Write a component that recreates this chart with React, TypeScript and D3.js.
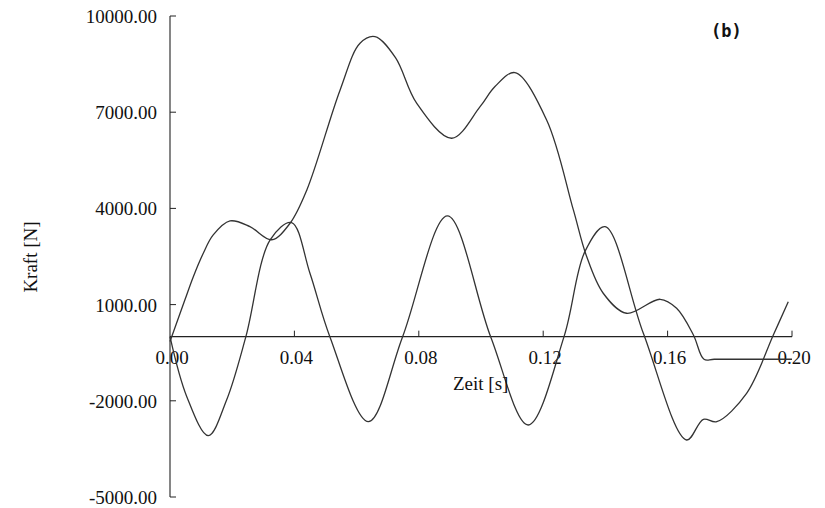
import React from "react";
import * as d3 from "d3";

// time axis ticks [s] and force ticks [N]
const xTicks = [0, 0.04, 0.08, 0.12, 0.16, 0.2];
const yTicks = [10000, 7000, 4000, 1000, -2000, -5000];

// curve 1: total force
const aTime = [0, 0.0048, 0.0075, 0.0107, 0.0139, 0.0193, 0.0257, 0.0327, 0.0386, 0.044, 0.0547, 0.0611, 0.0659, 0.0725, 0.0793, 0.0906, 0.0997, 0.1045, 0.1109, 0.1211, 0.1297, 0.1338, 0.1393, 0.1468, 0.1576, 0.1629, 0.1683, 0.1717, 0.175, 0.2];
const aForce = [-150, 1150, 1871, 2601, 3172, 3609, 3431, 3023, 3537, 4576, 7695, 9151, 9357, 8700, 7280, 6188, 7174, 7800, 8234, 6759, 3952, 2548, 1354, 730, 1166, 886, 53, -705, -705, -705];

// curve 2: oscillating force
const bTime = [0, 0.0054, 0.0123, 0.0182, 0.0244, 0.0322, 0.0391, 0.045, 0.0514, 0.0638, 0.0748, 0.0892, 0.1031, 0.1152, 0.1267, 0.1334, 0.1399, 0.1522, 0.1661, 0.1715, 0.1758, 0.1854, 0.194, 0.1988];
const bForce = [0, -1871, -3088, -1974, 0, 3016, 3556, 1977, 0, -2651, 0, 3765, 0, -2754, 0, 2651, 3431, 106, -3222, -2576, -2651, -1766, 53, 1092];

const W = 825;
const H = 508;
const font = "'Liberation Serif', 'Times New Roman', serif";

export default function App() {
  const x = d3.scaleLinear().domain([0, 0.2]).range([170, 792]);
  const y = d3.scaleLinear().domain([-5000, 10000]).range([497, 16]);

  const line = d3
    .line<[number, number]>()
    .x((d) => x(d[0]))
    .y((d) => y(d[1]))
    .curve(d3.curveCatmullRom.alpha(0.5));

  const a = aTime.map((t, i) => [t, aForce[i]] as [number, number]);
  const b = bTime.map((t, i) => [t, bForce[i]] as [number, number]);

  const x0 = x(0);
  const y0 = y(0);

  return (
    <svg
      width={W}
      height={H}
      style={{ position: "absolute", left: 0, top: 0, background: "#fff" }}
    >
      {/* y axis */}
      <line x1={x0} x2={x0} y1={y(10000)} y2={y(-5000)} stroke="#222" strokeWidth={1.1} />
      {yTicks.map((v) => (
        <g key={v}>
          <line x1={x0} x2={x0 + 6} y1={y(v)} y2={y(v)} stroke="#222" strokeWidth={1} />
          <text
            x={157}
            y={y(v) + 7}
            textAnchor="end"
            fontFamily={font}
            fontSize={19}
            fill="#111"
          >
            {v.toFixed(2)}
          </text>
        </g>
      ))}

      {/* x axis */}
      <line x1={x0} x2={x(0.2)} y1={y0} y2={y0} stroke="#222" strokeWidth={1.1} />
      {xTicks.map((t) => (
        <g key={t}>
          {t > 0 && (
            <line x1={x(t)} x2={x(t)} y1={y0} y2={y0 - 6} stroke="#222" strokeWidth={1} />
          )}
          <text
            x={x(t) + 2}
            y={364}
            textAnchor="middle"
            fontFamily={font}
            fontSize={19}
            fill="#111"
          >
            {t.toFixed(2)}
          </text>
        </g>
      ))}

      {/* curves */}
      <path d={line(a) ?? ""} fill="none" stroke="#333" strokeWidth={1.3} />
      <path d={line(b) ?? ""} fill="none" stroke="#333" strokeWidth={1.3} />

      {/* labels */}
      <text x={453} y={390} fontFamily={font} fontSize={19} fill="#111">
        Zeit [s]
      </text>
      <text
        transform="translate(37,257) rotate(-90)"
        textAnchor="middle"
        fontFamily={font}
        fontSize={19}
        fill="#111"
      >
        Kraft [N]
      </text>
      <text
        x={711}
        y={37}
        fontFamily="'DejaVu Sans Mono', 'Liberation Mono', monospace"
        fontWeight="bold"
        fontSize={17}
        fill="#111"
      >
        (b)
      </text>
    </svg>
  );
}
